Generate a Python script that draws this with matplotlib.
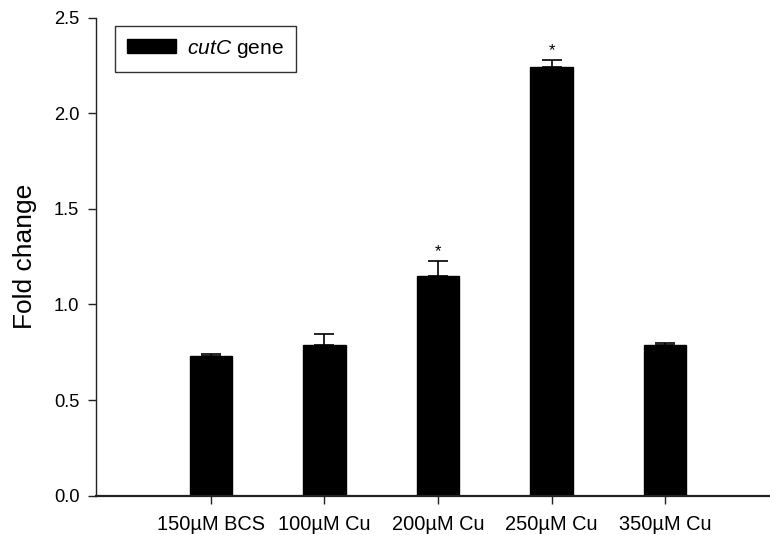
import numpy as np
import matplotlib.pyplot as plt
from matplotlib.patches import Patch

plt.rcParams['font.family'] = ['Liberation Sans', 'DejaVu Sans']
plt.rcParams['mathtext.fontset'] = 'custom'
plt.rcParams['mathtext.rm'] = 'Liberation Sans'
plt.rcParams['mathtext.it'] = 'Liberation Sans:italic'

# -------------------------------
# Data: cutC expression vs. copper / BCS treatment
# -------------------------------
treatments = ["150\u00b5M BCS", "100\u00b5M Cu", "200\u00b5M Cu", "250\u00b5M Cu", "350\u00b5M Cu"]
fold_change = [0.730, 0.788, 1.148, 2.240, 0.790]
err_upper = [0.011, 0.056, 0.077, 0.036, 0.006]
significant = [False, False, True, True, False]

fig = plt.figure(figsize=(7.7, 5.35), dpi=100)
ax = fig.add_axes([96 / 770, 1 - 495.7 / 535, 674 / 770, 478.2 / 535])

x = np.arange(1, len(treatments) + 1)
ax.bar(x, fold_change, width=0.376, color="black", edgecolor="black", zorder=2)
ax.errorbar(x, fold_change, yerr=[np.zeros(len(err_upper)), err_upper],
            fmt="none", ecolor="black", elinewidth=1.2, capsize=7, capthick=1.2, zorder=3)

# significance stars above the error caps
for xi, yi, e, sig in zip(x, fold_change, err_upper, significant):
    if sig:
        ax.annotate("*", (xi, yi + e), xytext=(0, 1.5), textcoords="offset points",
                    ha="center", va="bottom", fontsize=12)

ax.set_xlim(-0.013, 5.925)
ax.set_ylim(0, 2.5)
ax.set_yticks([0.0, 0.5, 1.0, 1.5, 2.0, 2.5])
ax.set_yticklabels(["0.0", "0.5", "1.0", "1.5", "2.0", "2.5"])
ax.set_xticks(x)
ax.set_xticklabels(treatments)

for side in ["top", "right"]:
    ax.spines[side].set_visible(False)
ax.spines["left"].set_color("#222222")
ax.spines["left"].set_linewidth(1.0)
ax.spines["bottom"].set_color("#222222")
ax.spines["bottom"].set_linewidth(1.6)

ax.tick_params(axis="y", direction="out", length=6, width=1, colors="#222222",
               labelcolor="black", labelsize=13.2, pad=6)
ax.tick_params(axis="x", direction="out", length=6, width=1, colors="#222222",
               labelcolor="black", labelsize=14.4, pad=8)

ax.set_ylabel("Fold change", fontsize=19)
ax.yaxis.set_label_coords(-0.088, 0.5)

handle = Patch(facecolor="black", edgecolor="black")
leg = ax.legend([handle], [r"$\mathit{cutC}$ gene"], loc="upper left",
                bbox_to_anchor=(0.028, 0.983), fontsize=15.1, frameon=True,
                fancybox=False, handlelength=2.33, handleheight=0.65,
                handletextpad=0.53, borderpad=0.57, borderaxespad=0)
leg.get_frame().set_edgecolor("black")
leg.get_frame().set_linewidth(1.0)

plt.savefig("out.png", dpi=100)
